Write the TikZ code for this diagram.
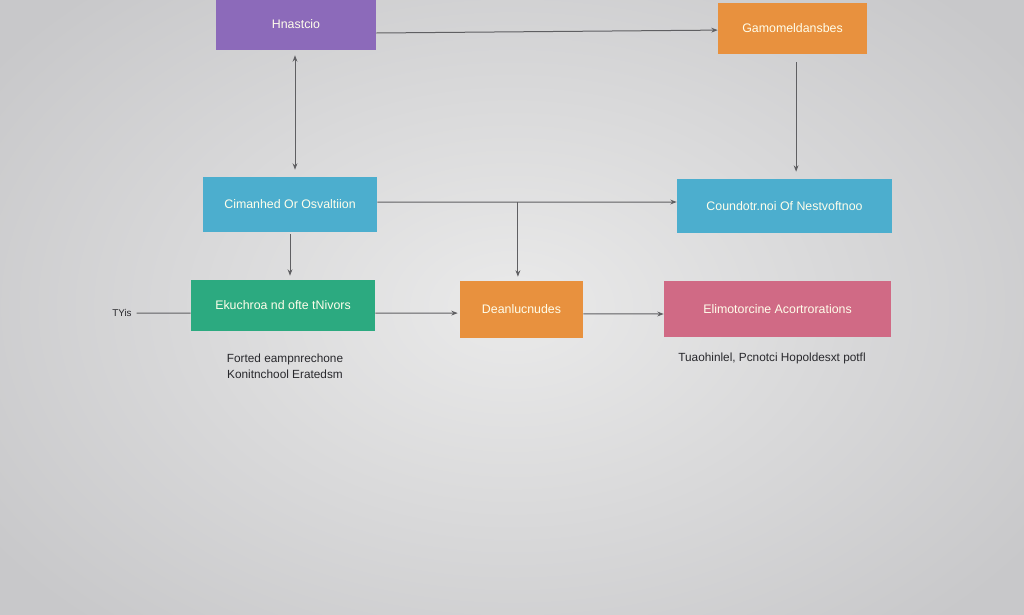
\documentclass[tikz,border=0pt]{standalone}
\usepackage{fontspec}
\setmainfont{Liberation Sans}
\usepackage{tikz, xcolor}
\usetikzlibrary{arrows.meta, positioning, calc}
\definecolor{bg_in}{RGB}{234,234,234}
\definecolor{bg_out}{RGB}{200,200,202}
\definecolor{box_purple}{RGB}{140,106,186}
\definecolor{box_orange}{RGB}{232,145,62}
\definecolor{box_blue}{RGB}{76,174,206}
\definecolor{box_green}{RGB}{44,170,128}
\definecolor{box_pink}{RGB}{208,106,133}
\definecolor{line_gray}{RGB}{95,95,98}
\definecolor{note_gray}{RGB}{40,40,44}

\tikzset{
    box/.style={rectangle, inner sep=0pt, text=white!92!yellow, font=\fontsize{8.8}{10}\selectfont},
    link/.style={line_gray, line width=0.25mm, -{Stealth[length=1.6mm, width=1.2mm]}},
    note/.style={text=note_gray, font=\fontsize{8.4}{11.5}\selectfont, align=center}
}

\begin{document}
\begin{tikzpicture}[x=0.25mm, y=-0.25mm]
    \useasboundingbox (0,0) rectangle (1024,614);
    \shade[inner color=bg_in, outer color=bg_out] (-120,-120) rectangle (1144,734);

    % boxes
    \node[box, fill=box_purple, minimum width=40mm, minimum height=13mm] (hn) at (296,24) {Hnastcio};
    \node[box, fill=box_orange, minimum width=37.25mm, minimum height=12.75mm] (gm) at (792.5,28.5) {Gamomeldansbes};
    \node[box, fill=box_blue, minimum width=43.5mm, minimum height=13.75mm] (cd) at (290,204.5) {Cimanhed Or Osvaltiion};
    \node[box, fill=box_blue, minimum width=53.75mm, minimum height=13.5mm] (cn) at (784.5,206) {Coundotr.noi Of Nestvoftnoo};
    \node[box, fill=box_green, minimum width=46mm, minimum height=12.75mm] (ek) at (283,305.5) {Ekuchroa nd ofte tNivors};
    \node[box, fill=box_orange, minimum width=30.75mm, minimum height=14.25mm] (de) at (521.5,309.5) {Deanlucnudes};
    \node[box, fill=box_pink, minimum width=56.75mm, minimum height=14mm] (el) at (777.5,309) {Elimotorcine Acortrorations};

    % side texts
    \node[note, font=\scriptsize] (tyis) at (122,313) {TYis};
    \node[note] (fo) at (285,366) {Forted eampnrechone\\Konitnchool Eratedsm};
    \node[note] (tu) at (772,358) {Tuaohinlel, Pcnotci Hopoldesxt potfl};

    % connectors
    \draw[link] ([yshift=-2.25mm]hn.east) -- ([yshift=-0.4mm]gm.west);
    \draw[link, {Stealth[length=1.6mm, width=1.2mm]}-{Stealth[length=1.6mm, width=1.2mm]}, shorten <=1.25mm, shorten >=1.75mm] ([xshift=-0.25mm]hn.south) -- ([xshift=-0.25mm]hn.south |- cd.north);
    \draw[link, shorten <=2mm, shorten >=1.75mm] ([xshift=0.9mm]gm.south) -- ([xshift=0.9mm]gm.south |- cn.north);
    \draw[link] ([yshift=0.6mm]cd.east) -- ([yshift=1mm]cn.west);
    \coordinate (jn) at ([xshift=-0.9mm, yshift=0.6mm]de.north |- cd.east);
    \draw[link, shorten >=1mm] (jn) -- ([xshift=-0.9mm]de.north);
    \draw[link, shorten <=0.5mm, shorten >=1mm] (cd.south) -- (cd.south |- ek.north);
    \draw[line_gray, line width=0.25mm] (tyis) -- ([yshift=-1.9mm]ek.west);
    \draw[link, shorten >=0.5mm] ([yshift=-1.9mm]ek.east) -- ([yshift=-0.9mm]de.west);
    \draw[link] ([yshift=-1.1mm]de.east) -- ([yshift=-1.25mm]el.west);
\end{tikzpicture}
\end{document}
